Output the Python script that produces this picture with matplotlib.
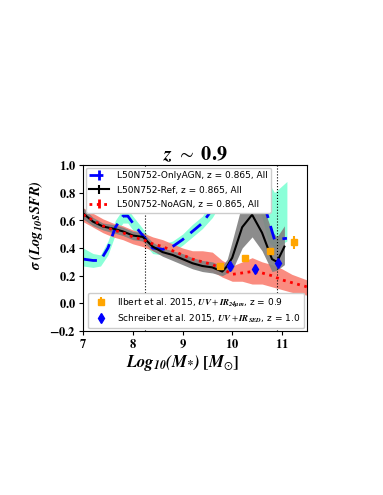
import numpy as np
import matplotlib
matplotlib.use('Agg')
from matplotlib import pyplot as plt
from matplotlib.ticker import FuncFormatter

plt.rcParams['mathtext.fontset'] = 'stix'
plt.rcParams['font.family'] = 'DejaVu Sans'

# L50N752-Ref
ref_x = [7.0, 7.2, 7.4, 7.6, 7.8, 8.0, 8.2, 8.4, 8.6, 8.8, 9.0, 9.2, 9.4, 9.6, 9.8, 9.9, 10.0, 10.2, 10.4, 10.6, 10.8, 10.9, 11.05]
ref_y = [0.65, 0.59, 0.555, 0.54, 0.52, 0.49, 0.48, 0.41, 0.37, 0.35, 0.32, 0.29, 0.27, 0.26, 0.23, 0.27, 0.33, 0.55, 0.64, 0.51, 0.32, 0.30, 0.41]
ref_lo = [0.61, 0.56, 0.53, 0.51, 0.49, 0.46, 0.45, 0.38, 0.34, 0.31, 0.28, 0.25, 0.23, 0.22, 0.20, 0.22, 0.24, 0.40, 0.48, 0.38, 0.23, 0.24, 0.28]
ref_hi = [0.69, 0.62, 0.58, 0.57, 0.55, 0.52, 0.51, 0.44, 0.40, 0.38, 0.36, 0.33, 0.31, 0.30, 0.27, 0.32, 0.45, 0.72, 0.80, 0.72, 0.52, 0.48, 0.56]

# L50N752-OnlyAGN
agn_x = [7.0, 7.2, 7.35, 7.5, 7.65, 7.8, 7.9, 8.0, 8.2, 8.4, 8.6, 8.8, 9.0, 9.2, 9.4, 9.6, 9.8, 10.0, 10.2, 10.4, 10.6, 10.72, 10.85, 11.1]
agn_y = [0.32, 0.31, 0.31, 0.40, 0.55, 0.63, 0.63, 0.58, 0.49, 0.40, 0.39, 0.41, 0.46, 0.52, 0.58, 0.68, 0.80, 0.87, 0.89, 0.86, 0.76, 0.62, 0.46, 0.47]
agn_lo = [0.27, 0.26, 0.27, 0.35, 0.50, 0.58, 0.58, 0.53, 0.44, 0.36, 0.35, 0.37, 0.42, 0.48, 0.54, 0.62, 0.74, 0.80, 0.83, 0.79, 0.62, 0.45, 0.40, 0.45]
agn_hi = [0.40, 0.36, 0.35, 0.45, 0.60, 0.68, 0.68, 0.63, 0.54, 0.44, 0.43, 0.45, 0.50, 0.57, 0.63, 0.74, 0.86, 0.93, 0.94, 0.92, 0.90, 0.88, 0.80, 0.88]

# L50N752-NoAGN
noagn_x = [7.0, 7.2, 7.4, 7.6, 7.8, 8.0, 8.2, 8.4, 8.6, 8.8, 9.0, 9.2, 9.4, 9.6, 9.8, 10.0, 10.2, 10.4, 10.6, 10.8, 11.0, 11.2, 11.5]
noagn_y = [0.64, 0.60, 0.56, 0.53, 0.51, 0.48, 0.46, 0.43, 0.41, 0.38, 0.35, 0.32, 0.30, 0.28, 0.25, 0.21, 0.22, 0.23, 0.22, 0.20, 0.17, 0.15, 0.12]
noagn_lo = [0.59, 0.55, 0.51, 0.48, 0.46, 0.43, 0.41, 0.38, 0.35, 0.33, 0.30, 0.27, 0.25, 0.23, 0.19, 0.16, 0.16, 0.14, 0.14, 0.12, 0.10, 0.08, 0.06]
noagn_hi = [0.69, 0.65, 0.61, 0.58, 0.56, 0.53, 0.51, 0.48, 0.46, 0.43, 0.40, 0.38, 0.38, 0.37, 0.31, 0.27, 0.30, 0.33, 0.30, 0.28, 0.25, 0.21, 0.17]

# observations
ilbert_x = [9.75, 10.25, 10.75, 11.25]
ilbert_y = [0.27, 0.33, 0.38, 0.44]
ilbert_err = [0.0, 0.0, 0.0, 0.05]
schreiber_x = [9.95, 10.45, 10.92]
schreiber_y = [0.27, 0.25, 0.29]

vlines_x = [8.25, 10.9]

fig = plt.figure(figsize=(3.83, 4.95), dpi=100)
ax = fig.add_axes([0.217, 0.331, 0.584, 0.336])

ax.fill_between(agn_x, agn_lo, agn_hi, color='aquamarine', lw=0, alpha=0.9)
ax.fill_between(noagn_x, noagn_lo, noagn_hi, color='salmon', lw=0, alpha=0.9)
ax.fill_between(ref_x, ref_lo, ref_hi, color='gray', lw=0, alpha=0.9)

ax.errorbar(agn_x, agn_y, yerr=np.zeros(len(agn_x)), color='blue', ls='--', lw=2, dashes=(5, 3),
            label='L50N752-OnlyAGN, z = 0.865, All')
ax.errorbar(ref_x, ref_y, yerr=np.zeros(len(ref_x)), color='black', ls='-', lw=1.5,
            label='L50N752-Ref, z = 0.865, All')
ax.errorbar(noagn_x, noagn_y, yerr=np.zeros(len(noagn_x)), color='red', ls=':', lw=2,
            label='L50N752-NoAGN, z = 0.865, All')

for xv in vlines_x:
    ax.axvline(xv, color='black', ls=':', lw=0.8)

ax.errorbar(ilbert_x, ilbert_y, yerr=ilbert_err, fmt='s', color='orange', ms=5,
            label=r'Ilbert et al. 2015, $\mathbfit{UV} + \mathbfit{IR}_{\mathbfit{24\mu m}}$, z = 0.9')
ax.errorbar(schreiber_x, schreiber_y, fmt='d', color='blue', ms=5,
            label=r'Schreiber et al. 2015, $\mathbfit{UV} + \mathbfit{IR}_{\mathbfit{SED}}$, z = 1.0')

ax.set_xlim(7, 11.5)
ax.set_ylim(-0.2, 1.0)
ax.set_xticks([7, 8, 9, 10, 11])
ax.set_yticks([-0.2, 0.0, 0.2, 0.4, 0.6, 0.8, 1.0])
ax.xaxis.set_major_formatter(FuncFormatter(lambda v, p: r'$\mathbf{%d}$' % v))
ax.yaxis.set_major_formatter(FuncFormatter(lambda v, p: r'$\mathbf{%.1f}$' % v))
ax.tick_params(labelsize=9, length=3, pad=2)

ax.set_title(r'$\mathbfit{z}\ \sim\ \mathbf{0.9}$', fontsize=14.5, pad=3)
ax.set_xlabel(r'$\mathbfit{Log_{10}(M_{*})}\ \mathbf{[}\mathbfit{M}_{\odot}\mathbf{]}$', fontsize=12)
ax.xaxis.set_label_coords(0.445, -0.13)
ax.set_ylabel(r'$\mathbfit{\sigma\ (Log_{10}sSFR)}$', fontsize=10.5)
ax.yaxis.set_label_coords(-0.172, 0.64)

handles, labels = ax.get_legend_handles_labels()
leg1 = ax.legend(handles[:3], labels[:3], loc='upper left', fontsize=6.5, framealpha=1,
                 borderaxespad=0.3, handlelength=2.2, labelspacing=0.6)
ax.add_artist(leg1)
ax.legend(handles[3:], labels[3:], loc='lower right', fontsize=6.5, framealpha=1,
          borderaxespad=0.3, labelspacing=0.4)

fig.savefig('out.png', dpi=100)
